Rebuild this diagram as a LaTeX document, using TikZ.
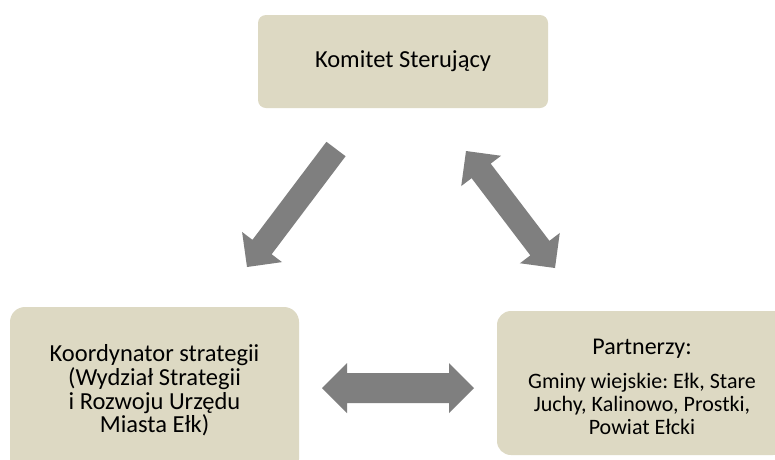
\documentclass[tikz,border=0pt]{standalone}
\usepackage{fontspec}
\setmainfont{Carlito}
\usetikzlibrary{calc}
\frenchspacing
\definecolor{boxfill}{HTML}{DDD9C3}
\definecolor{arrowgray}{HTML}{7F7F7F}
\tikzset{
  box/.style={fill=boxfill, draw=none, inner sep=0pt, align=center, text=black},
  arrowfill/.style={fill=arrowgray, draw=none},
}
% block arrow with one head: #1 tail, #2 tip, #3 half shaft width
\newcommand{\blkone}[3]{%
  \coordinate (#2-b) at ($(#2)!25pt!(#1)$);
  \fill[arrowfill] ($(#1)!#3!90:(#2)$) -- ($(#2-b)!#3!90:(#2)$) -- ($(#2-b)!25pt!90:(#2)$) -- (#2)
     -- ($(#2-b)!25pt!-90:(#2)$) -- ($(#2-b)!#3!-90:(#2)$) -- ($(#1)!#3!-90:(#2)$) -- cycle;}
% block arrow with two heads
\newcommand{\blktwo}[3]{%
  \coordinate (#1-b) at ($(#1)!25pt!(#2)$);
  \coordinate (#2-b) at ($(#2)!25pt!(#1)$);
  \fill[arrowfill] (#1) -- ($(#1-b)!25pt!90:(#2)$) -- ($(#1-b)!#3!90:(#2)$) -- ($(#2-b)!#3!90:(#2)$)
     -- ($(#2-b)!25pt!90:(#2)$) -- (#2) -- ($(#2-b)!25pt!-90:(#2)$) -- ($(#2-b)!#3!-90:(#2)$)
     -- ($(#1-b)!#3!-90:(#2)$) -- ($(#1-b)!25pt!-90:(#2)$) -- cycle;}
\begin{document}
\begin{tikzpicture}[x=1pt,y=-1pt]
\useasboundingbox (0,0) rectangle (775,459);
\fill[white] (0,0) rectangle (775,459);
\clip (0,0) rectangle (775,459);

\node[box, rounded corners=8pt, minimum width=290pt, minimum height=93pt,
      font=\fontsize{24.5}{24}\selectfont] (ks) at (403,61.5) {Komitet Sterujący};

\node[box, rounded corners=15pt, minimum width=289pt, minimum height=167pt,
      font=\fontsize{24.5}{23.6}\selectfont] (ko) at (154.5,390.5)
      {Koordynator strategii\\(Wydział Strategii\\i Rozwoju Urzędu\\Miasta Ełk)};

\node[box, rounded corners=14pt, minimum width=290pt, minimum height=144pt,
      label={[align=center, text=black, yshift=-4pt, font=\fontsize{22}{23.3}\selectfont]center:{{\fontsize{24}{24}\selectfont Partnerzy:}\\[10.7pt]Gminy wiejskie: Ełk, Stare\\Juchy, Kalinowo, Prostki,\\Powiat Ełcki}}]
      (pa) at (642,383) {};

\coordinate (a1s) at (336,149);
\coordinate (a1e) at (247,267);
\coordinate (a2s) at (466,151);
\coordinate (a2e) at (555,268);
\coordinate (a3s) at (322,388);
\coordinate (a3e) at (474,388);

\blkone{a1s}{a1e}{12pt}
\blktwo{a2s}{a2e}{12pt}
\blktwo{a3s}{a3e}{15pt}
\end{tikzpicture}
\end{document}
